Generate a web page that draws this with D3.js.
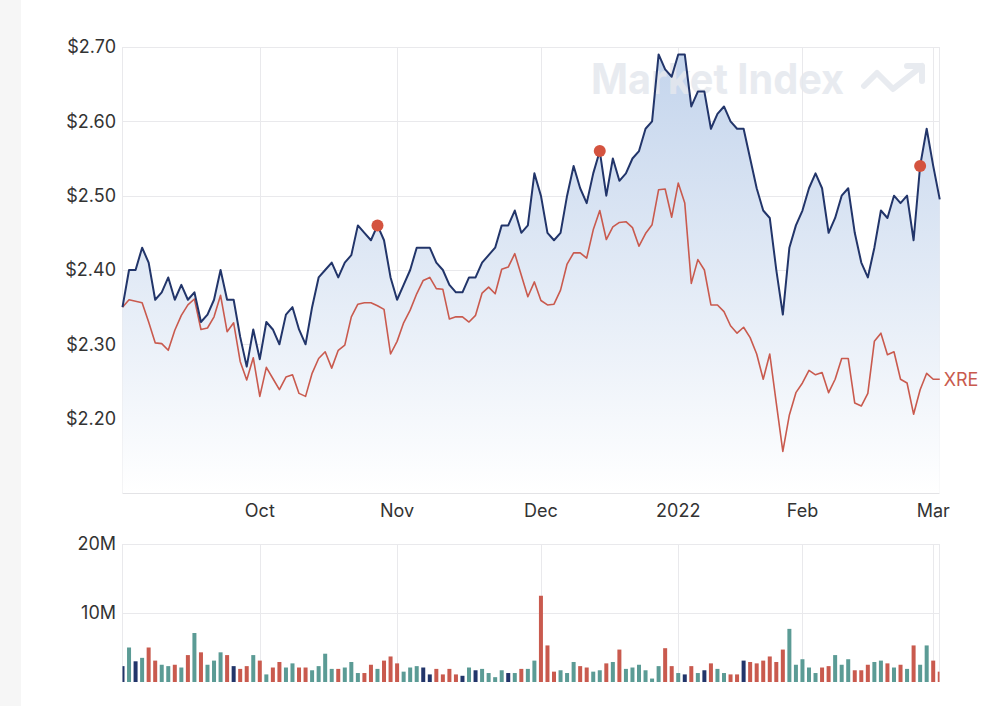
<!DOCTYPE html>
<html>
<head>
<meta charset="utf-8">
<script src="https://cdn.jsdelivr.net/npm/d3@7"></script>
<style>
  body { margin: 0; background: #fff; }
  svg text { font-family: Inter, "Open Sans", sans-serif; }
</style>
</head>
<body>
<div id="chart"></div>
<script>
// 收盤價 (XRE)，每個交易日一筆
const closePrices = [
  2.35, 2.40, 2.40, 2.43, 2.41, 2.36, 2.37, 2.39, 2.36, 2.38,
  2.36, 2.37, 2.33, 2.34, 2.36, 2.40, 2.36, 2.36, 2.31, 2.27,
  2.32, 2.28, 2.33, 2.32, 2.30, 2.34, 2.35, 2.32, 2.30, 2.35,
  2.39, 2.40, 2.41, 2.39, 2.41, 2.42, 2.46, 2.45, 2.44, 2.46,
  2.44, 2.39, 2.36, 2.38, 2.40, 2.43, 2.43, 2.43, 2.41, 2.40,
  2.38, 2.37, 2.37, 2.39, 2.39, 2.41, 2.42, 2.43, 2.46, 2.46,
  2.48, 2.45, 2.46, 2.53, 2.50, 2.45, 2.44, 2.45, 2.50, 2.54,
  2.51, 2.49, 2.53, 2.56, 2.50, 2.55, 2.52, 2.53, 2.55, 2.56,
  2.59, 2.60, 2.69, 2.67, 2.66, 2.69, 2.69, 2.62, 2.64, 2.64,
  2.59, 2.61, 2.62, 2.60, 2.59, 2.59, 2.55, 2.51, 2.48, 2.47,
  2.40, 2.34, 2.43, 2.46, 2.48, 2.51, 2.53, 2.51, 2.45, 2.47,
  2.50, 2.51, 2.45, 2.41, 2.39, 2.43, 2.48, 2.47, 2.50, 2.49,
  2.50, 2.44, 2.54, 2.59, 2.54, 2.495
];

// 比較指數 (紅線)，已換算成同一價格尺度
const compareLine = [
  2.350, 2.360, 2.358, 2.356, 2.330, 2.302, 2.301, 2.292, 2.319, 2.339,
  2.353, 2.361, 2.320, 2.322, 2.337, 2.366, 2.317, 2.329, 2.277, 2.252,
  2.282, 2.230, 2.269, 2.254, 2.239, 2.256, 2.259, 2.234, 2.230, 2.261,
  2.281, 2.290, 2.268, 2.292, 2.299, 2.337, 2.354, 2.356, 2.356, 2.352,
  2.347, 2.287, 2.304, 2.329, 2.346, 2.368, 2.386, 2.390, 2.375, 2.374,
  2.334, 2.337, 2.337, 2.330, 2.339, 2.369, 2.377, 2.368, 2.401, 2.404,
  2.422, 2.393, 2.364, 2.384, 2.359, 2.353, 2.354, 2.373, 2.408, 2.423,
  2.423, 2.416, 2.454, 2.480, 2.441, 2.458, 2.464, 2.465, 2.457, 2.432,
  2.449, 2.461, 2.508, 2.509, 2.471, 2.517, 2.490, 2.382, 2.414, 2.400,
  2.353, 2.353, 2.344, 2.325, 2.315, 2.323, 2.309, 2.287, 2.253, 2.287,
  2.221, 2.156, 2.205, 2.235, 2.248, 2.265, 2.259, 2.262, 2.235, 2.253,
  2.281, 2.281, 2.221, 2.217, 2.234, 2.304, 2.315, 2.286, 2.290, 2.253,
  2.248, 2.206, 2.239, 2.261, 2.253, 2.253
];

// 成交量 (百萬股)
const volumes = [
  2.3, 5.0, 3.0, 3.5, 5.0, 3.1, 2.5, 2.3, 2.5, 2.1,
  3.9, 7.1, 4.3, 2.5, 3.1, 4.3, 3.9, 2.3, 1.9, 2.3,
  3.9, 3.1, 1.1, 2.1, 2.9, 2.1, 2.7, 2.1, 2.1, 1.7,
  2.3, 4.1, 1.9, 1.9, 2.1, 2.9, 1.3, 1.3, 2.5, 1.9,
  3.1, 3.7, 2.7, 1.5, 2.1, 2.3, 2.1, 1.1, 1.9, 1.1,
  1.9, 1.1, 0.9, 2.1, 1.7, 1.9, 1.3, 0.7, 1.7, 1.3,
  1.3, 1.9, 1.9, 3.1, 12.5, 5.3, 1.5, 1.7, 1.3, 2.9,
  2.3, 2.1, 1.5, 1.7, 2.7, 2.9, 4.7, 1.9, 2.1, 2.5,
  1.7, 0.5, 2.3, 4.9, 2.3, 1.3, 1.1, 2.3, 1.3, 1.7,
  2.7, 1.9, 1.3, 1.1, 1.1, 3.1, 2.9, 2.7, 3.1, 3.7,
  2.9, 4.7, 7.7, 2.5, 3.3, 2.1, 1.3, 2.1, 2.3, 3.9,
  2.5, 3.3, 1.7, 1.7, 2.5, 2.9, 3.1, 2.7, 2.1, 2.5,
  1.9, 5.3, 2.5, 5.3, 3.1, 1.5
];

const eventIdx = [39, 73, 122];                 // 紅點 (事件)
const monthTickIdx = [21, 42, 64, 85, 104, 124]; // 每月第一個交易日
const monthTickLabels = ["Oct", "Nov", "Dec", "2022", "Feb", "Mar"];
const priceTicks = [2.2, 2.3, 2.4, 2.5, 2.6, 2.7];
const volumeTicks = [10, 20];
const seriesLabel = "XRE";

const drawChart = () => {
    const width = 1000;
    const height = 706;

    const main = { left: 122.5, right: 939.5, top: 47, bottom: 493 };
    const vol = { top: 544, bottom: 682 };

    const navy = "#22356a";
    const red = "#c95a4e";
    const teal = "#5b9b95";
    const gridColor = "#e9e9ec";
    const labelColor = "#333333";
    const fontSize = 18;

    const svg = d3.select("#chart")
        .append("svg")
        .attr("width", width)
        .attr("height", height);

    // 左側灰色邊
    svg.append("rect")
        .attr("x", 0).attr("y", 0)
        .attr("width", 21).attr("height", height)
        .attr("fill", "#f6f6f6");

    const x = d3.scaleLinear()
        .domain([0, closePrices.length - 1])
        .range([main.left, 939.75]);

    const y = d3.scaleLinear()
        .domain([2.10, 2.70])
        .range([main.bottom, main.top]);

    const yVol = d3.scaleLinear()
        .domain([0, 20])
        .range([vol.bottom, vol.top]);

    const defs = svg.append("defs");
    const grad = defs.append("linearGradient")
        .attr("id", "areaFill")
        .attr("gradientUnits", "userSpaceOnUse")
        .attr("x1", 0).attr("x2", 0)
        .attr("y1", main.top).attr("y2", main.bottom);
    grad.append("stop").attr("offset", 0).attr("stop-color", "#c3d4ec");
    grad.append("stop").attr("offset", 1).attr("stop-color", "#ffffff");

    defs.append("clipPath").attr("id", "volClip")
        .append("rect")
        .attr("x", main.left).attr("y", vol.top - 5)
        .attr("width", main.right - main.left).attr("height", vol.bottom - vol.top + 5);

    // 水平格線 (價格)
    svg.append("g")
        .selectAll("line")
        .data(priceTicks)
        .enter()
        .append("line")
        .attr("x1", main.left).attr("x2", main.right)
        .attr("y1", d => Math.round(y(d)) + 0.5)
        .attr("y2", d => Math.round(y(d)) + 0.5)
        .attr("stroke", gridColor);

    // 水平格線 (成交量)
    svg.append("g")
        .selectAll("line")
        .data(volumeTicks)
        .enter()
        .append("line")
        .attr("x1", main.left).attr("x2", main.right)
        .attr("y1", d => Math.round(yVol(d)) + 0.5)
        .attr("y2", d => Math.round(yVol(d)) + 0.5)
        .attr("stroke", gridColor);

    // 垂直格線 (兩個面板)
    [[main.top, main.bottom], [vol.top, vol.bottom]].forEach(([t, b]) => {
        svg.append("g")
            .selectAll("line")
            .data(monthTickIdx)
            .enter()
            .append("line")
            .attr("x1", d => Math.round(x(d)) + 0.5)
            .attr("x2", d => Math.round(x(d)) + 0.5)
            .attr("y1", t).attr("y2", b)
            .attr("stroke", gridColor);
        // 左右邊框
        svg.append("line")
            .attr("x1", main.left).attr("x2", main.left)
            .attr("y1", t).attr("y2", b)
            .attr("stroke", gridColor);
        svg.append("line")
            .attr("x1", main.right).attr("x2", main.right)
            .attr("y1", t).attr("y2", b)
            .attr("stroke", gridColor);
    });

    // 底部軸線
    svg.append("line")
        .attr("x1", main.left).attr("x2", main.right)
        .attr("y1", main.bottom).attr("y2", main.bottom)
        .attr("stroke", "#e3e3e6")
        .attr("stroke-width", 2);

    // 面積 + 收盤價線
    const area = d3.area()
        .x((d, i) => x(i))
        .y0(main.bottom)
        .y1(d => y(d));

    const line = d3.line()
        .x((d, i) => x(i))
        .y(d => y(d));

    svg.append("path")
        .datum(closePrices)
        .attr("d", area)
        .attr("fill", "url(#areaFill)");

    // 浮水印
    const wm = svg.append("g").attr("opacity", 0.85);
    wm.append("text")
        .attr("x", 591)
        .attr("y", 94)
        .attr("font-size", 42)
        .attr("font-weight", 700)
        .attr("textLength", 253)
        .attr("lengthAdjust", "spacingAndGlyphs")
        .attr("fill", "#e5e8ee")
        .text("Market Index");
    wm.append("path")
        .attr("d", "M864,86 L877,73 L893,89 L922,66 M907,66 L922,66 L922,81")
        .attr("fill", "none")
        .attr("stroke", "#e5e8ee")
        .attr("stroke-width", 6)
        .attr("stroke-linecap", "round")
        .attr("stroke-linejoin", "round");

    svg.append("path")
        .datum(compareLine)
        .attr("d", line)
        .attr("fill", "none")
        .attr("stroke", red)
        .attr("stroke-width", 1.6)
        .attr("stroke-linejoin", "round");

    svg.append("path")
        .datum(closePrices)
        .attr("d", line)
        .attr("fill", "none")
        .attr("stroke", navy)
        .attr("stroke-width", 2)
        .attr("stroke-linejoin", "round");

    // 事件紅點
    svg.append("g")
        .selectAll("circle")
        .data(eventIdx)
        .enter()
        .append("circle")
        .attr("cx", d => x(d))
        .attr("cy", d => y(closePrices[d]))
        .attr("r", 6)
        .attr("fill", "#d4533f");

    // 線尾標籤
    const last = compareLine.length - 1;
    svg.append("text")
        .attr("x", x(last) + 4)
        .attr("y", y(compareLine[last]))
        .attr("dy", "0.35em")
        .attr("font-size", fontSize)
        .attr("fill", red)
        .text(seriesLabel);

    // 成交量柱 — 顏色依當日漲跌
    const barW = 4;
    svg.append("g")
        .attr("clip-path", "url(#volClip)")
        .selectAll("rect")
        .data(volumes)
        .enter()
        .append("rect")
        .attr("x", (d, i) => x(i) - barW / 2)
        .attr("y", d => yVol(d))
        .attr("width", barW)
        .attr("height", d => yVol(0) - yVol(d))
        .attr("fill", (d, i) => {
            if (i === 0) return navy;
            const diff = closePrices[i] - closePrices[i - 1];
            if (diff > 0.0001) {
                return teal;
            } else if (diff < -0.0001) {
                return red;
            } else {
                return navy;
            }
        });

    // y 軸標籤
    const fmtPrice = d3.format("$.2f");
    svg.append("g")
        .selectAll("text")
        .data(priceTicks)
        .enter()
        .append("text")
        .attr("x", 116)
        .attr("y", d => y(d))
        .attr("dy", "0.35em")
        .attr("text-anchor", "end")
        .attr("font-size", fontSize)
        .attr("fill", labelColor)
        .text(d => fmtPrice(d));

    svg.append("g")
        .selectAll("text")
        .data(volumeTicks)
        .enter()
        .append("text")
        .attr("x", 116)
        .attr("y", d => yVol(d))
        .attr("dy", "0.35em")
        .attr("text-anchor", "end")
        .attr("font-size", fontSize)
        .attr("fill", labelColor)
        .text(d => `${d}M`);

    // x 軸標籤
    svg.append("g")
        .selectAll("text")
        .data(monthTickIdx)
        .enter()
        .append("text")
        .attr("x", d => x(d))
        .attr("y", 511)
        .attr("dy", "0.35em")
        .attr("text-anchor", "middle")
        .attr("font-size", fontSize)
        .attr("fill", labelColor)
        .text((d, i) => monthTickLabels[i]);
};

drawChart();
</script>
</body>
</html>
